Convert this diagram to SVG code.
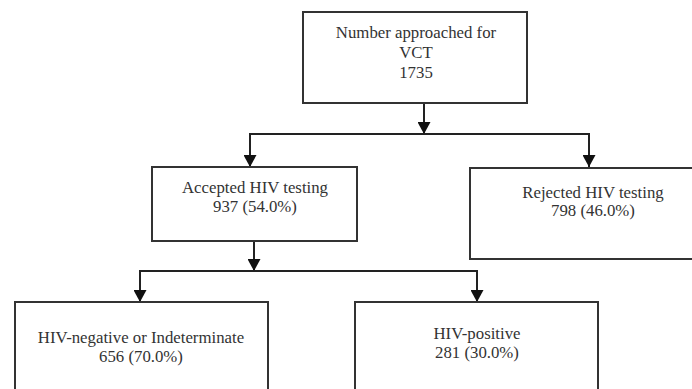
<svg xmlns="http://www.w3.org/2000/svg" width="692" height="389" viewBox="0 0 692 389">
<style>
.box{fill:#fff;stroke:#333;stroke-width:2}
.ln{fill:none;stroke:#222;stroke-width:2}
text{font-family:"Liberation Serif","Times New Roman",serif;font-size:16.8px;fill:#333;text-anchor:middle}
</style>
<defs>
<marker id="ah" viewBox="0 0 12 13" refX="12" refY="6.5" markerWidth="12" markerHeight="13" markerUnits="userSpaceOnUse" orient="auto">
<path d="M0,0 L12,6.5 L0,13 Z" fill="#111"/>
</marker>
</defs>
<rect width="692" height="389" fill="#fff"/>
<g id="connectors">
<line class="ln" x1="424" y1="103" x2="424" y2="134" marker-end="url(#ah)"/>
<line class="ln" x1="250" y1="134" x2="589" y2="134"/>
<line class="ln" x1="250" y1="133" x2="250" y2="167" marker-end="url(#ah)"/>
<line class="ln" x1="589" y1="133" x2="589" y2="167" marker-end="url(#ah)"/>
<line class="ln" x1="254" y1="241" x2="254" y2="271" marker-end="url(#ah)"/>
<line class="ln" x1="140" y1="271" x2="477" y2="271"/>
<line class="ln" x1="140" y1="270" x2="140" y2="302" marker-end="url(#ah)"/>
<line class="ln" x1="477" y1="270" x2="477" y2="302" marker-end="url(#ah)"/>
</g>
<g id="approached">
<rect class="box" x="303" y="12" width="224" height="91"/>
<text x="416" y="38">Number approached for</text>
<text x="416" y="58">VCT</text>
<text x="416" y="78">1735</text>
</g>
<g id="accepted">
<rect class="box" x="152" y="167" width="205" height="74"/>
<text x="255" y="193">Accepted HIV testing</text>
<text x="255" y="212">937 (54.0%)</text>
</g>
<g id="rejected">
<rect class="box" x="470" y="168" width="230" height="91"/>
<text x="593" y="198">Rejected HIV testing</text>
<text x="593" y="216">798 (46.0%)</text>
</g>
<g id="negative">
<rect class="box" x="15" y="302" width="253" height="100"/>
<text x="141" y="343">HIV-negative or Indeterminate</text>
<text x="141" y="362">656 (70.0%)</text>
</g>
<g id="positive">
<rect class="box" x="355" y="302" width="243" height="100"/>
<text x="477" y="339">HIV-positive</text>
<text x="477" y="358">281 (30.0%)</text>
</g>
</svg>
